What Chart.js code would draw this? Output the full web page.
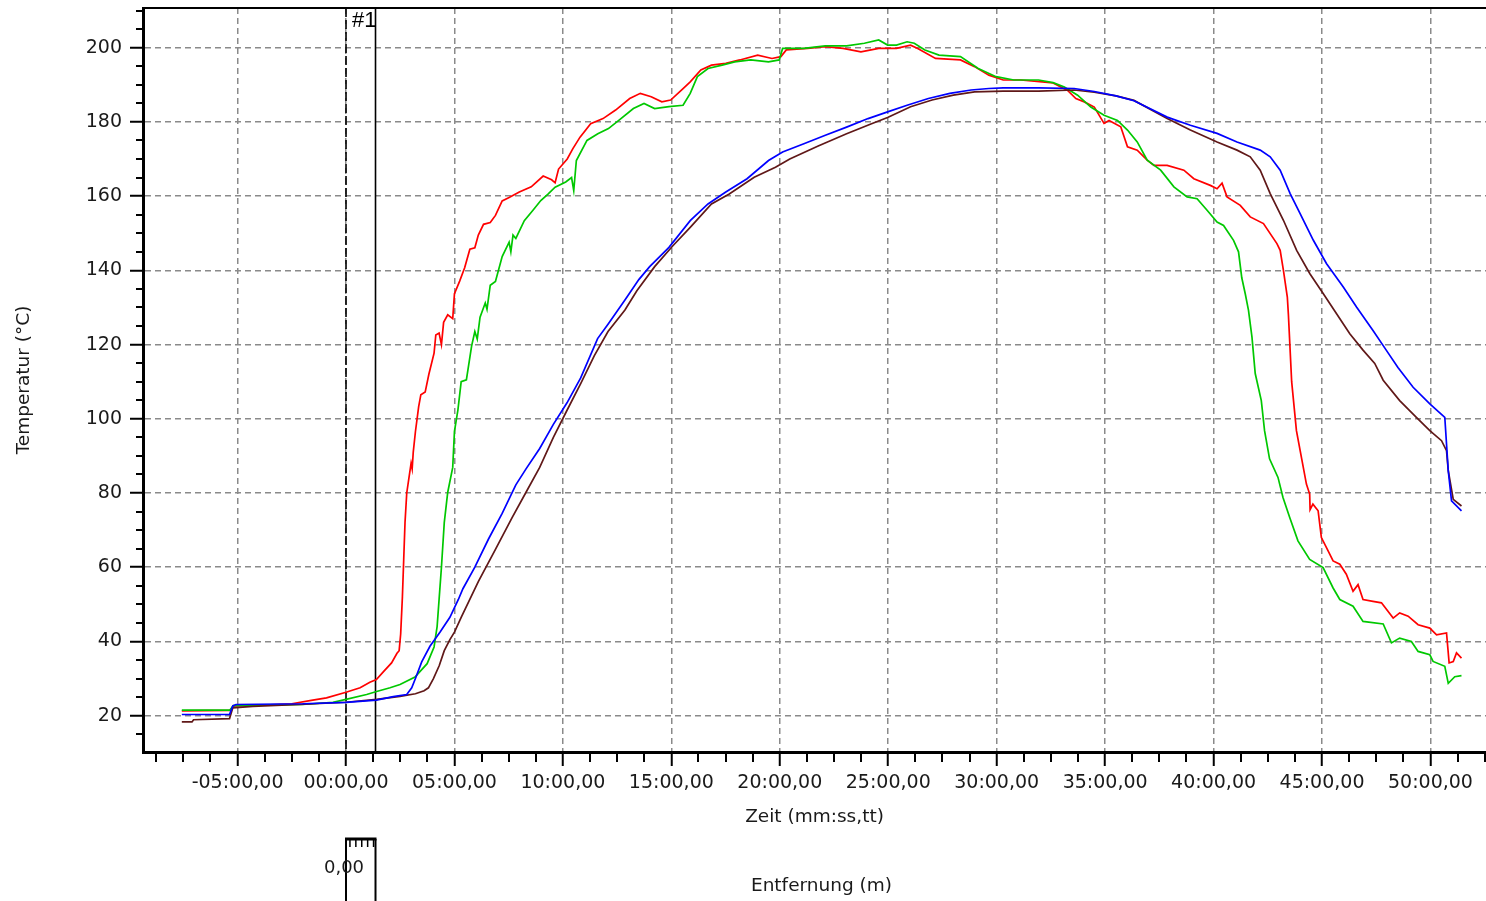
<!DOCTYPE html>
<html><head><meta charset="utf-8">
<script src="https://cdn.jsdelivr.net/npm/chart.js@4.4.1/dist/chart.umd.min.js"></script>
<style>html,body{margin:0;padding:0;background:#fff;overflow:hidden}#wrap{position:relative;width:1486px;height:901px}</style>
</head><body><div id="wrap"><canvas id="c"></canvas></div>
<script>
// ---- axis ticks ----
const xTickValues = [-5,0,5,10,15,20,25,30,35,40,45,50];
const xTickLabels = ['-05:00,00','00:00,00','05:00,00','10:00,00','15:00,00','20:00,00','25:00,00','30:00,00','35:00,00','40:00,00','45:00,00','50:00,00'];
const yTickValues = [20,40,60,80,100,120,140,160,180,200];
const xTitle = 'Zeit (mm:ss,tt)';
const yTitle = 'Temperatur (°C)';
const distTitle = 'Entfernung (m)';
const distLabel = '0,00';
const cursorTimes = [0, 1.36];
const cursorLabel = '#1';

// ---- series: [minutes, °C] ----
const red = [[-7.57,21.3],[-5.35,21.4],[-5.15,22.6],[-4.0,22.8],[-2.5,23.2],[-1.6,24.1],[-0.9,24.8],[0,26.3],[0.65,27.5],[1.1,29.0],[1.4,29.7],[1.75,32.0],[2.1,34.2],[2.35,36.8],[2.45,37.5],[2.52,42],[2.6,52],[2.66,62],[2.72,72],[2.8,80],[2.9,84],[3.0,88],[3.05,86.5],[3.1,91],[3.2,96.5],[3.35,103.3],[3.45,106.5],[3.65,107.2],[3.82,112.0],[4.06,117.7],[4.14,122.6],[4.29,123.1],[4.4,120],[4.5,126],[4.69,128],[4.92,127],[5.0,133.7],[5.24,137.1],[5.47,140.7],[5.71,145.7],[5.94,146.1],[6.1,149.5],[6.34,152.4],[6.65,152.9],[6.89,154.8],[7.2,158.7],[7.52,159.6],[7.99,161.1],[8.54,162.5],[9.09,165.4],[9.48,164.4],[9.64,163.6],[9.8,167.3],[10.2,170],[10.46,172.8],[10.79,175.9],[11.28,179.5],[11.85,180.9],[12.43,183.2],[13.08,186.3],[13.57,187.7],[14.07,186.8],[14.56,185.4],[14.97,185.9],[15.54,189.0],[15.87,190.8],[16.36,194.0],[16.85,195.3],[17.51,195.8],[18.16,196.7],[18.98,198.0],[19.64,197.1],[20.05,197.6],[20.3,199.4],[21.28,199.8],[22.1,200.3],[22.92,199.8],[23.74,198.9],[24.56,199.8],[25.38,199.8],[26.03,200.7],[26.36,199.8],[27.18,197.1],[28.33,196.7],[28.98,194.9],[29.64,192.6],[30.3,191.3],[31.11,191.3],[32.1,190.8],[32.6,190.5],[33.27,188.5],[33.65,186.3],[34.04,185.4],[34.5,184.0],[34.95,179.6],[35.18,180.4],[35.72,178.7],[36.03,173.3],[36.48,172.4],[36.94,169.7],[37.25,168.3],[37.86,168.3],[38.63,167.0],[39.09,164.7],[39.85,162.9],[40.16,162.0],[40.39,163.5],[40.62,159.8],[41.23,157.5],[41.69,154.4],[42.3,152.6],[42.92,147.2],[43.07,145.4],[43.22,140.0],[43.4,132.8],[43.45,128],[43.6,110],[43.82,96.8],[44.05,89.6],[44.28,82.4],[44.43,79.7],[44.45,75.5],[44.58,77.0],[44.82,75.2],[44.97,68.0],[45.28,64.4],[45.51,61.7],[45.82,60.8],[46.12,58.1],[46.43,53.5],[46.66,55.3],[46.89,51.3],[47.35,50.8],[47.74,50.4],[48.28,46.3],[48.58,47.7],[48.97,46.8],[49.43,44.5],[49.97,43.6],[50.28,41.8],[50.74,42.3],[50.86,34.2],[51.05,34.6],[51.2,36.9],[51.43,35.5]];

const green = [[-7.57,21.5],[-5.35,21.5],[-5.2,22.7],[-4.0,22.8],[-2.0,23.0],[-0.6,23.6],[0,24.4],[0.95,25.7],[1.41,26.5],[2.03,27.5],[2.49,28.4],[3.18,30.4],[3.74,34],[4.06,38.5],[4.2,44],[4.3,52],[4.4,60],[4.53,72],[4.69,80.2],[4.92,86.9],[5.0,96.6],[5.16,102.4],[5.31,110.0],[5.55,110.5],[5.79,119.6],[5.94,123.5],[6.05,121.5],[6.18,127.4],[6.42,131.2],[6.5,129.5],[6.65,136.0],[6.89,137.0],[7.2,143.7],[7.52,147.6],[7.6,145],[7.7,149.5],[7.83,148.6],[8.22,153.4],[8.62,156.2],[8.98,158.8],[9.3,160.5],[9.64,162.4],[10.13,163.8],[10.4,165.0],[10.5,161.5],[10.62,169.6],[11.11,175.0],[11.61,176.8],[12.1,178.2],[12.59,180.5],[13.25,183.6],[13.74,185.0],[14.23,183.6],[14.89,184.1],[15.54,184.5],[15.87,187.7],[16.2,192.2],[16.69,194.4],[17.34,195.3],[17.92,196.2],[18.66,196.7],[19.48,196.2],[19.97,196.7],[20.13,199.8],[21.11,199.8],[22.1,200.5],[23.08,200.5],[23.9,201.2],[24.56,202.1],[24.97,200.7],[25.38,200.7],[25.87,201.6],[26.2,201.2],[26.69,199.4],[27.34,198.0],[28.33,197.6],[29.15,194.4],[29.97,192.2],[30.79,191.3],[31.93,191.3],[32.6,190.6],[33.12,189.4],[33.73,187.2],[34.34,184.0],[34.95,181.8],[35.57,180.4],[36.03,177.8],[36.48,174.6],[36.94,169.7],[37.56,167.0],[38.17,162.5],[38.78,159.8],[39.24,159.3],[39.7,156.2],[40.16,153.0],[40.46,152.1],[40.92,148.1],[41.15,145.0],[41.3,138],[41.46,133.7],[41.61,129.2],[41.77,122.0],[41.92,112.2],[42.2,104.9],[42.35,96.8],[42.58,89.2],[42.97,84.2],[43.2,78.8],[43.51,73.4],[43.89,67.1],[44.43,62.1],[45.05,59.9],[45.51,54.4],[45.82,51.3],[46.43,49.5],[46.89,45.4],[47.82,44.7],[48.2,39.6],[48.58,40.9],[49.12,40.0],[49.43,37.3],[49.97,36.4],[50.12,34.6],[50.66,33.3],[50.82,28.7],[51.12,30.5],[51.43,30.8]];

const blue = [[-7.57,20.3],[-5.37,20.3],[-5.22,22.6],[-5.07,23.0],[-2.0,23.2],[0,23.6],[1.4,24.2],[2.18,25.1],[2.8,25.7],[3.03,27.5],[3.2,30],[3.49,34.5],[3.87,38.7],[4.33,42.5],[4.79,46.5],[5.18,51.3],[5.39,54.2],[5.94,60.0],[6.57,67.6],[7.2,74.5],[7.83,82.2],[8.3,86.5],[8.93,92],[9.56,98.5],[10.19,104.3],[10.82,111.0],[11.6,121.6],[12.08,125.5],[12.86,132],[13.5,137.5],[14.0,141],[14.89,146.2],[15.87,153.4],[16.69,157.9],[17.51,161.1],[18.49,164.7],[19.48,169.6],[20.13,171.9],[21.11,174.1],[22.1,176.4],[23.08,178.6],[24.07,180.9],[24.97,182.7],[25.87,184.5],[26.85,186.3],[27.84,187.7],[28.82,188.6],[29.64,189.0],[30.3,189.2],[31.93,189.2],[33.57,189.0],[34.5,188.2],[35.5,187],[36.33,185.7],[37.86,181.3],[38.93,179.1],[40.16,176.9],[41.08,174.6],[42.15,172.4],[42.61,170.6],[43.07,167.0],[43.53,160.7],[43.99,155.3],[44.6,148.1],[45.21,141.8],[45.98,135.5],[46.59,130.1],[47.35,123.8],[47.96,118.5],[48.5,113.8],[49.2,108.5],[49.97,104.0],[50.66,100.4],[50.82,86.0],[50.97,77.9],[51.43,75.2]];

const brown = [[-7.57,18.3],[-7.1,18.3],[-7.03,18.9],[-5.37,19.2],[-5.22,22.1],[-4.3,22.5],[-2.15,23.0],[0,23.6],[1.41,24.4],[2.49,25.2],[3.2,25.9],[3.6,26.7],[3.8,27.5],[4.03,30],[4.3,33.5],[4.53,37.5],[4.79,40.5],[5.0,42.5],[5.31,46.5],[6.1,56.1],[6.89,64.8],[7.67,73.5],[8.3,80.2],[8.93,86.9],[9.56,95],[10.19,102.3],[10.82,109.5],[11.45,117.0],[12.08,123.5],[12.86,129.3],[13.41,134.5],[14.23,141.0],[15.05,146.5],[15.87,151.6],[16.85,157.9],[17.67,160.6],[18.82,165.1],[19.8,167.8],[20.46,170.0],[21.77,173.5],[23.08,176.8],[24.23,179.5],[24.97,181.2],[26.03,184.1],[27.02,185.9],[28.0,187.2],[28.98,188.1],[30.3,188.3],[31.93,188.3],[33.57,188.6],[34.5,188.0],[35.5,187],[36.33,185.8],[37.86,180.9],[38.93,177.8],[40.16,174.6],[41.08,172.4],[41.69,170.6],[42.15,167.0],[42.61,160.7],[43.22,153.5],[43.83,145.4],[44.44,139.1],[45.06,133.7],[45.67,128.3],[46.28,122.9],[46.89,118.5],[47.43,114.9],[47.82,110.4],[48.58,104.9],[49.35,100.4],[49.97,96.8],[50.51,94.1],[50.74,91.4],[50.82,86.0],[51.05,78.3],[51.43,76.5]];

const toXY = arr => arr.map(p => ({x: p[0], y: p[1]}));

const decor = {
  id: 'decor',
  beforeDatasetsDraw(chart) {
    const {ctx, chartArea: ca, scales: {x}} = chart;
    const x0 = x.getPixelForValue(cursorTimes[0]);
    const x1 = x.getPixelForValue(cursorTimes[1]);
    ctx.save();
    ctx.strokeStyle = '#000';
    ctx.lineWidth = 1.6;
    ctx.setLineDash([9, 3]);
    ctx.beginPath(); ctx.moveTo(x0, ca.top); ctx.lineTo(x0, ca.bottom); ctx.stroke();
    ctx.setLineDash([]);
    ctx.beginPath(); ctx.moveTo(x1, ca.top); ctx.lineTo(x1, ca.bottom); ctx.stroke();
    ctx.restore();
  },
  afterDraw(chart) {
    const {ctx, chartArea: ca, scales: {x, y}} = chart;
    ctx.save();
    ctx.strokeStyle = '#000';
    // top border
    ctx.lineWidth = 2;
    ctx.beginPath(); ctx.moveTo(ca.left, ca.top); ctx.lineTo(ca.right, ca.top); ctx.stroke();
    // minor ticks x
    ctx.lineWidth = 2;
    for (let v = -8.75; v <= x.max; v += 1.25) {
      if (Math.abs(v / 5 - Math.round(v / 5)) < 1e-6) continue;
      const px = Math.round(x.getPixelForValue(v));
      ctx.beginPath(); ctx.moveTo(px, ca.bottom); ctx.lineTo(px, ca.bottom + 10); ctx.stroke();
    }
    // minor ticks y
    for (let v = 15; v <= y.max; v += 5) {
      if (v % 20 === 0) continue;
      const py = Math.round(y.getPixelForValue(v));
      ctx.beginPath(); ctx.moveTo(ca.left - 7, py); ctx.lineTo(ca.left, py); ctx.stroke();
    }
    // cursor label
    const x0 = x.getPixelForValue(cursorTimes[0]);
    const x1 = x.getPixelForValue(cursorTimes[1]);
    ctx.fillStyle = '#000';
    ctx.font = '22px "Liberation Sans", Arial, sans-serif';
    ctx.textAlign = 'left'; ctx.textBaseline = 'middle';
    ctx.fillText(cursorLabel, x0 + 6, ca.top + 13);
    // distance axis box
    const by = ca.bottom + 87;
    ctx.lineWidth = 3;
    ctx.beginPath(); ctx.moveTo(x0 - 1, by); ctx.lineTo(x1 + 1, by); ctx.stroke();
    ctx.lineWidth = 2;
    ctx.beginPath(); ctx.moveTo(x0, by); ctx.lineTo(x0, chart.height); ctx.stroke();
    ctx.beginPath(); ctx.moveTo(x1, by); ctx.lineTo(x1, chart.height); ctx.stroke();
    ctx.lineWidth = 1.5;
    const w = x1 - x0;
    for (let i = 0; i < 5; i++) {
      const px = x0 + w * (4 + 6 * i) / 30;
      ctx.beginPath(); ctx.moveTo(px, by); ctx.lineTo(px, by + 8); ctx.stroke();
    }
    ctx.fillStyle = '#1a1a1a';
    ctx.font = '18px "DejaVu Sans", sans-serif';
    ctx.textAlign = 'center';
    ctx.fillText(distLabel, x0 - 2, by + 29);
    ctx.font = '18.5px "DejaVu Sans", sans-serif';
    ctx.fillText(distTitle, (ca.left + ca.right) / 2 + 7, by + 47);
    ctx.restore();
  }
};

const gridCommon = {
  color: '#8a8a8a', lineWidth: 1.5, tickColor: '#000', tickWidth: 2, tickBorderDash: [], drawOnChartArea: true
};

new Chart(document.getElementById('c'), {
  type: 'line',
  data: {
    datasets: [
      {label: 'blue', data: toXY(blue), borderColor: '#0000ff'},
      {label: 'brown', data: toXY(brown), borderColor: '#601818'},
      {label: 'green', data: toXY(green), borderColor: '#00c800'},
      {label: 'red', data: toXY(red), borderColor: '#ff0000'}
    ]
  },
  options: {
    responsive: true, maintainAspectRatio: false, animation: false,
    parsing: true,
    elements: {line: {borderWidth: 1.7, tension: 0}, point: {radius: 0}},
    layout: {padding: {top: 8, left: 0, right: 0, bottom: 0}},
    plugins: {legend: {display: false}, tooltip: {enabled: false}},
    scales: {
      x: {
        type: 'linear', position: 'bottom', min: -9.36, max: 52.56,
        afterFit(s) { s.height = 149; s.paddingLeft = 0; s.paddingRight = 0; },
        afterBuildTicks(s) { s.ticks = xTickValues.map(v => ({value: v})); },
        ticks: {
          autoSkip: false, maxRotation: 0, minRotation: 0, padding: 6, color: '#1a1a1a',
          font: {family: 'DejaVu Sans', size: 19},
          callback: (v) => xTickLabels[xTickValues.indexOf(v)]
        },
        grid: Object.assign({}, gridCommon, {tickLength: 14}),
        border: {display: true, color: '#000', width: 3, dash: [6, 4]},
        title: {display: true, text: xTitle, color: '#1a1a1a', font: {family: 'DejaVu Sans', size: 18.5}, padding: {top: 0, bottom: 73}}
      },
      y: {
        type: 'linear', min: 10.2, max: 210.7,
        afterFit(s) { s.width = 143; s.paddingTop = 0; s.paddingBottom = 0; },
        afterBuildTicks(s) { s.ticks = yTickValues.map(v => ({value: v})); },
        ticks: {padding: 8, color: '#1a1a1a', font: {family: 'DejaVu Sans', size: 19}},
        grid: Object.assign({}, gridCommon, {tickLength: 13}),
        border: {display: true, color: '#000', width: 3, dash: [6, 4]},
        title: {display: true, text: yTitle, color: '#1a1a1a', font: {family: 'DejaVu Sans', size: 18.5}, padding: {top: 13, bottom: 0}}
      }
    }
  },
  plugins: [decor]
});
</script>
</body></html>
